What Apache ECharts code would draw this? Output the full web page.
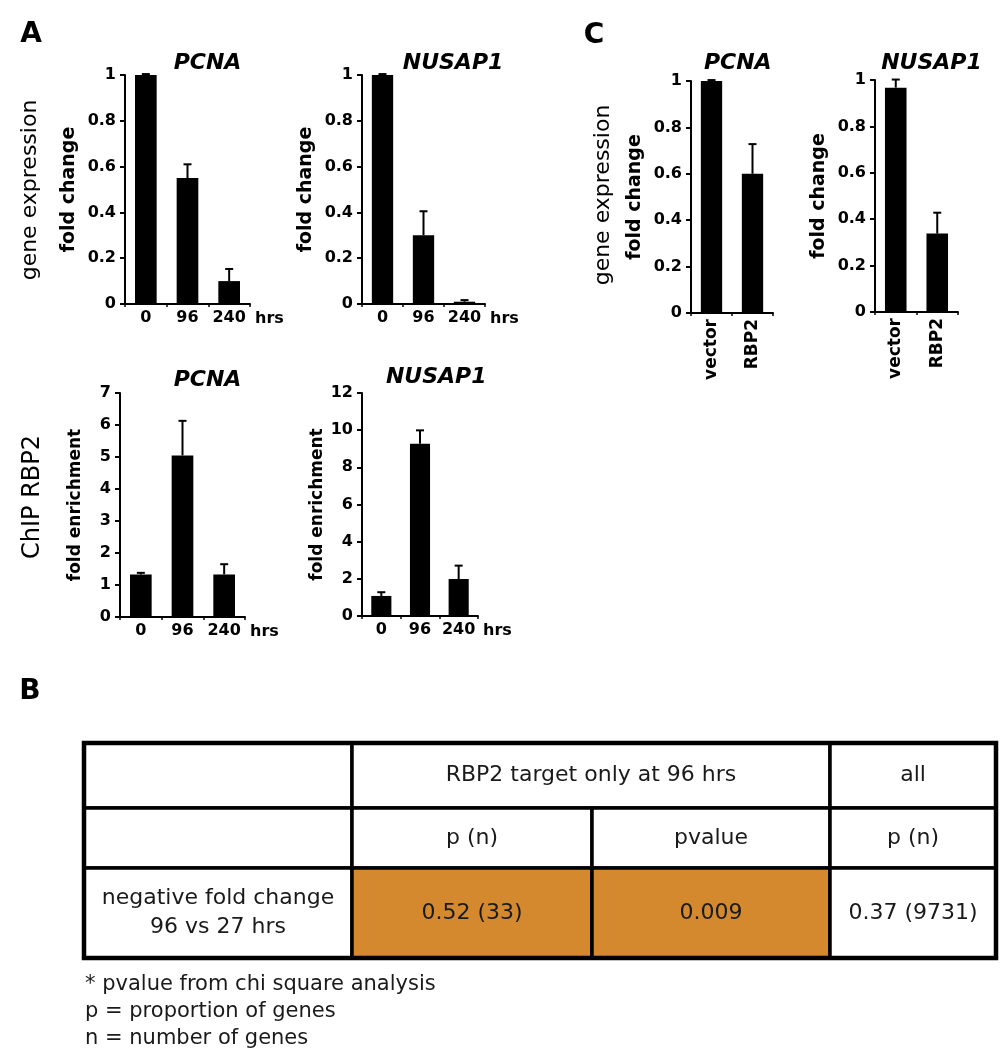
<!DOCTYPE html>
<html>
<head>
<meta charset="utf-8">
<script src="https://cdn.jsdelivr.net/npm/echarts@6/dist/echarts.min.js"></script>
<style>
html,body{margin:0;padding:0;background:#fff;}
#main{width:1002px;height:1050px;}
</style>
</head>
<body>
<div id="main"></div>
<script>
// ---------- DATA ----------
const timeCats = ['0', '96', '240'];
const timeUnit = 'hrs';
const cCats = ['vector', 'RBP2'];

const exprPCNA = [1.0, 0.55, 0.10];
const exprPCNAErr = [0.004, 0.06, 0.053];
const exprNUSAP1 = [1.0, 0.30, 0.01];
const exprNUSAP1Err = [0.004, 0.105, 0.007];

const chipPCNA = [1.33, 5.05, 1.33];
const chipPCNAErr = [0.05, 1.08, 0.32];
const chipNUSAP1 = [1.08, 9.27, 1.99];
const chipNUSAP1Err = [0.2, 0.72, 0.72];

const cPCNA = [1.0, 0.60];
const cPCNAErr = [0.004, 0.128];
const cNUSAP1 = [0.967, 0.338];
const cNUSAP1Err = [0.035, 0.09];

const exprTicks = { max: 1, interval: 0.2 };
const chipPCNATicks = { max: 7, interval: 1 };
const chipNUSAP1Ticks = { max: 12, interval: 2 };

const tableHead1 = ['', 'RBP2 target only at 96 hrs', 'all'];
const tableHead2 = ['', 'p (n)', 'pvalue', 'p (n)'];
const tableRow = ['negative fold change\n96 vs 27 hrs', '0.52 (33)', '0.009', '0.37 (9731)'];
const tableHighlight = [false, true, true, false];
const footnotes = ['* pvalue from chi square analysis', 'p = proportion of genes', 'n = number of genes'];

// ---------- LAYOUT ----------
const FONT = 'DejaVu Sans';
const chart = echarts.init(document.getElementById('main'), null, { renderer: 'canvas' });

const grids = [], xAxes = [], yAxes = [], series = [], graphics = [];

function text(x, y, str, opt) {
  opt = opt || {};
  graphics.push({
    type: 'text', x: x, y: y, rotation: opt.rotation || 0, z: 10,
    style: {
      text: str, fill: opt.color || '#000',
      fontFamily: FONT, fontSize: opt.size || 16,
      fontWeight: opt.weight || 'normal', fontStyle: opt.style || 'normal',
      textAlign: opt.align || 'center', align: opt.align || 'center',
      textVerticalAlign: 'middle', verticalAlign: 'middle',
      lineHeight: opt.lineHeight
    }
  });
}

function addChart(p) {
  const gi = grids.length;
  grids.push({ left: p.left, top: p.top, width: p.width, height: p.height, containLabel: false });
  xAxes.push({
    gridIndex: gi, type: 'category', data: p.cats,
    axisLine: { show: true, lineStyle: { color: '#000', width: 2 } },
    axisTick: { show: true, length: 3, lineStyle: { color: '#000', width: 1.5 } },
    axisLabel: {
      color: '#000', fontFamily: FONT, fontWeight: 'bold', fontSize: p.rot ? 17 : 16,
      margin: 6, rotate: p.rot ? 90 : 0, interval: 0
    },
    name: p.unit || '', nameLocation: 'end', nameGap: 5,
    nameTextStyle: { color: '#000', fontFamily: FONT, fontWeight: 'bold', fontSize: 16,
      verticalAlign: 'top', padding: [7, 0, 0, 0] }
  });
  yAxes.push({
    gridIndex: gi, type: 'value', min: 0, max: p.ticks.max, interval: p.ticks.interval,
    axisLine: { show: true, lineStyle: { color: '#000', width: 2 } },
    axisTick: { show: true, length: 5, lineStyle: { color: '#000', width: 2 } },
    axisLabel: { color: '#000', fontFamily: FONT, fontWeight: 'bold', fontSize: 16, margin: 9 },
    splitLine: { show: false },
    name: p.yName, nameLocation: 'middle', nameGap: p.nameGap,
    nameTextStyle: { color: '#000', fontFamily: FONT, fontWeight: 'bold', fontSize: p.nameSize }
  });
  series.push({
    type: 'bar', xAxisIndex: gi, yAxisIndex: gi, data: p.vals, barWidth: '52%',
    itemStyle: { color: '#000' }, silent: true, animation: false
  });
  series.push({
    type: 'custom', xAxisIndex: gi, yAxisIndex: gi, z: 5, silent: true, animation: false,
    data: p.vals.map((v, i) => [i, v, v + p.errs[i]]),
    renderItem: function (params, api) {
      const top = api.coord([api.value(0), api.value(2)]);
      const base = api.coord([api.value(0), api.value(1)]);
      return {
        type: 'group', children: [
          { type: 'line', shape: { x1: top[0], y1: base[1], x2: top[0], y2: top[1] }, style: { stroke: '#000', lineWidth: 2 } },
          { type: 'line', shape: { x1: top[0] - 4, y1: top[1], x2: top[0] + 4, y2: top[1] }, style: { stroke: '#000', lineWidth: 2 } }
        ]
      };
    }
  });
  text(p.left + p.width * p.titleFrac, p.titleY, p.title, { size: 22, weight: 'bold', style: 'italic' });
}

// Panel A
addChart({ left: 125, top: 75, width: 125, height: 229, cats: timeCats, unit: timeUnit, vals: exprPCNA, errs: exprPCNAErr,
  ticks: exprTicks, yName: 'fold change', nameGap: 46, nameSize: 19, title: 'PCNA', titleFrac: 0.66, titleY: 63 });
addChart({ left: 362, top: 75, width: 123, height: 229, cats: timeCats, unit: timeUnit, vals: exprNUSAP1, errs: exprNUSAP1Err,
  ticks: exprTicks, yName: 'fold change', nameGap: 46, nameSize: 19, title: 'NUSAP1', titleFrac: 0.74, titleY: 63 });
addChart({ left: 120, top: 393, width: 125, height: 224, cats: timeCats, unit: timeUnit, vals: chipPCNA, errs: chipPCNAErr,
  ticks: chipPCNATicks, yName: 'fold enrichment', nameGap: 36, nameSize: 17, title: 'PCNA', titleFrac: 0.70, titleY: 380 });
addChart({ left: 362, top: 393, width: 116, height: 223, cats: timeCats, unit: timeUnit, vals: chipNUSAP1, errs: chipNUSAP1Err,
  ticks: chipNUSAP1Ticks, yName: 'fold enrichment', nameGap: 36, nameSize: 17, title: 'NUSAP1', titleFrac: 0.64, titleY: 377 });
// Panel C
addChart({ left: 691, top: 81, width: 82, height: 232, cats: cCats, vals: cPCNA, errs: cPCNAErr, rot: true,
  ticks: exprTicks, yName: 'fold change', nameGap: 46, nameSize: 19, title: 'PCNA', titleFrac: 0.57, titleY: 63 });
addChart({ left: 875, top: 80, width: 83, height: 232, cats: cCats, vals: cNUSAP1, errs: cNUSAP1Err, rot: true,
  ticks: exprTicks, yName: 'fold change', nameGap: 46, nameSize: 19, title: 'NUSAP1', titleFrac: 0.68, titleY: 63 });

// Panel letters and row labels
text(31, 35, 'A', { size: 28, weight: 'bold' });
text(594, 36, 'C', { size: 28, weight: 'bold' });
text(30, 692, 'B', { size: 28, weight: 'bold' });
text(30, 190, 'gene expression', { size: 22, rotation: Math.PI / 2 });
text(33, 497, 'ChIP RBP2', { size: 24, rotation: Math.PI / 2 });
text(603, 195, 'gene expression', { size: 22, rotation: Math.PI / 2 });

// Panel B table
const colX = [84, 352, 592, 830, 996];
const rowY = [743, 808, 868, 958];
const TEXT_C = '#1a1a1a';
const ORANGE = '#d4892f';
function cell(x0, x1, y0, y1, fill) {
  graphics.push({ type: 'rect', z: 1, shape: { x: x0, y: y0, width: x1 - x0, height: y1 - y0 },
    style: { fill: fill || '#fff', stroke: '#000', lineWidth: 3.5 } });
}
// row 1
cell(colX[0], colX[1], rowY[0], rowY[1]);
cell(colX[1], colX[3], rowY[0], rowY[1]);
cell(colX[3], colX[4], rowY[0], rowY[1]);
text((colX[1] + colX[3]) / 2, (rowY[0] + rowY[1]) / 2, tableHead1[1], { size: 22, color: TEXT_C });
text((colX[3] + colX[4]) / 2, (rowY[0] + rowY[1]) / 2, tableHead1[2], { size: 22, color: TEXT_C });
// rows 2 and 3
for (let c = 0; c < 4; c++) {
  cell(colX[c], colX[c + 1], rowY[1], rowY[2]);
  if (tableHead2[c]) text((colX[c] + colX[c + 1]) / 2, (rowY[1] + rowY[2]) / 2, tableHead2[c], { size: 22, color: TEXT_C });
  cell(colX[c], colX[c + 1], rowY[2], rowY[3], tableHighlight[c] ? ORANGE : '#fff');
  text((colX[c] + colX[c + 1]) / 2, (rowY[2] + rowY[3]) / 2, tableRow[c], { size: 22, color: TEXT_C, lineHeight: 29 });
}
graphics.push({ type: 'rect', z: 2, shape: { x: colX[0], y: rowY[0], width: colX[4] - colX[0], height: rowY[3] - rowY[0] },
  style: { fill: 'none', stroke: '#000', lineWidth: 4.5 } });
footnotes.forEach((f, i) => text(85, 985 + i * 27, f, { size: 21, color: TEXT_C, align: 'left' }));

chart.setOption({
  backgroundColor: '#fff',
  animation: false,
  grid: grids, xAxis: xAxes, yAxis: yAxes, series: series,
  graphic: { elements: graphics }
});
</script>
</body>
</html>
